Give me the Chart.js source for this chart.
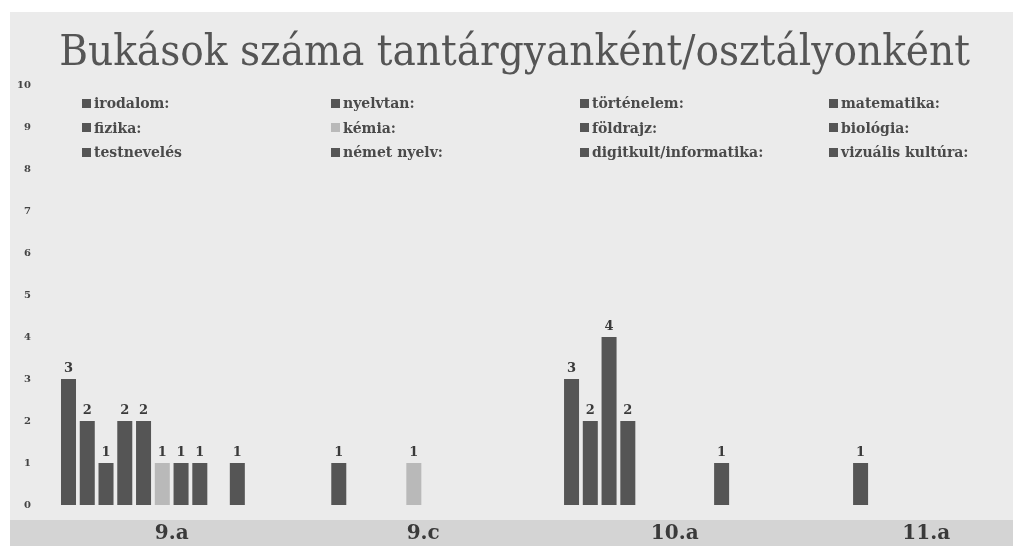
<!DOCTYPE html>
<html lang="hu">
<head>
    <script src="https://cdn.jsdelivr.net/npm/chart.js"></script>
    <meta charset="UTF-8">
    <title>Bukások</title>
    <style>
        html, body { margin: 0; padding: 0; background: #fff; overflow: hidden; width: 1013px; height: 546px; }
        #bg { position: absolute; left: 10px; top: 12px; width: 1100px; height: 534px; background: #ebebeb; }
        #band { position: absolute; left: 10px; top: 520px; width: 1100px; height: 26px; background: #d4d4d4; }
        #wrap { position: absolute; left: 0; top: 0; width: 1052px; height: 565px; }
        #legend { position: absolute; left: 82px; top: 91px; display: grid; grid-template-columns: repeat(4, 249px); grid-auto-rows: 24.5px;
                  font-family: "DejaVu Serif", serif; font-weight: bold; font-size: 14px; color: #4a4a4a; }
        #legend div { display: flex; align-items: center; white-space: nowrap; }
        #legend span.box { display: inline-block; width: 9px; height: 9px; margin-right: 3px; }
    </style>
</head>
<body>
    <div id="bg"></div>
    <div id="band"></div>
    <div id="wrap">
        <canvas id="myChart" width="1052" height="565"></canvas>
    </div>
    <div id="legend"></div>
    <script>
        const classes = ['9.a', '9.c', '10.a', '11.a'];
        const subjects = ['irodalom:', 'nyelvtan:', 'történelem:', 'matematika:',
                          'fizika:', 'kémia:', 'földrajz:', 'biológia:',
                          'testnevelés', 'német nyelv:', 'digitkult/informatika:', 'vizuális kultúra:'];
        const colors = ['#555555', '#555555', '#555555', '#555555',
                        '#555555', '#b9b9b9', '#555555', '#555555',
                        '#555555', '#555555', '#555555', '#555555'];
        // fails per class, one array per subject (9.a, 9.c, 10.a, 11.a)
        const irodalom = [3, 0, 3, 0];
        const nyelvtan = [2, 1, 2, 0];
        const tortenelem = [1, 0, 4, 1];
        const matematika = [2, 0, 2, 0];
        const fizika = [2, 0, 0, 0];
        const kemia = [1, 1, 0, 0];
        const foldrajz = [1, 0, 0, 0];
        const biologia = [1, 0, 0, 0];
        const testneveles = [0, 0, 1, 0];
        const nemet = [1, 0, 0, 0];
        const digitkult = [0, 0, 0, 0];
        const vizualis = [0, 0, 0, 0];
        const seriesValues = [irodalom, nyelvtan, tortenelem, matematika, fizika, kemia,
                              foldrajz, biologia, testneveles, nemet, digitkult, vizualis];
        const yTicks = [0, 1, 2, 3, 4, 5, 6, 7, 8, 9, 10];

        const serif = "'DejaVu Serif', serif";

        const legendEl = document.getElementById('legend');
        subjects.forEach((name, i) => {
            const item = document.createElement('div');
            item.innerHTML = '<span class="box" style="background:' + colors[i] + '"></span>' + name;
            legendEl.appendChild(item);
        });

        // numbers on top of the bars
        const valueLabels = {
            id: 'valueLabels',
            afterDatasetsDraw(chart) {
                const ctx = chart.ctx;
                ctx.save();
                ctx.font = "bold 13px " + serif;
                ctx.fillStyle = '#3a3a3a';
                ctx.textAlign = 'center';
                ctx.textBaseline = 'bottom';
                chart.data.datasets.forEach((ds, di) => {
                    const meta = chart.getDatasetMeta(di);
                    meta.data.forEach((bar, i) => {
                        if (ds.data[i] > 0) ctx.fillText(ds.data[i], bar.x, bar.y - 4);
                    });
                });
                ctx.restore();
            }
        };

        const ctx = document.getElementById('myChart');
        new Chart(ctx, {
            type: 'bar',
            data: {
                labels: classes,
                datasets: subjects.map((name, i) => ({
                    label: name,
                    data: seriesValues[i],
                    backgroundColor: colors[i],
                    borderWidth: 0
                }))
            },
            options: {
                responsive: false,
                animation: false,
                layout: { padding: { left: 2, right: 0, top: 0, bottom: 2 } },
                datasets: { bar: { categoryPercentage: 0.895, barPercentage: 0.8 } },
                scales: {
                    x: {
                        grid: { display: false, drawTicks: false },
                        border: { display: false },
                        ticks: { color: '#3a3a3a', padding: 17, font: { family: serif, weight: 'bold', size: 20 } }
                    },
                    y: {
                        min: 0,
                        max: 10,
                        afterBuildTicks: (axis) => { axis.ticks = yTicks.map(v => ({ value: v })); },
                        grid: { display: false, drawTicks: false },
                        border: { display: false },
                        ticks: { color: '#444', padding: 15, font: { family: serif, size: 10, weight: 'bold' } }
                    }
                },
                plugins: {
                    legend: { display: false },
                    tooltip: { enabled: false },
                    title: {
                        display: true,
                        // trailing spaces nudge the centred title a bit to the left
                        text: 'Bukások száma tantárgyanként/osztályonként  ',
                        color: '#555',
                        font: { family: "'DejaVu Serif Condensed', 'DejaVu Serif', serif", size: 43.5, weight: 'normal' },
                        padding: { top: 28, bottom: 5 }
                    }
                }
            },
            plugins: [valueLabels]
        });
    </script>
</body>
</html>
